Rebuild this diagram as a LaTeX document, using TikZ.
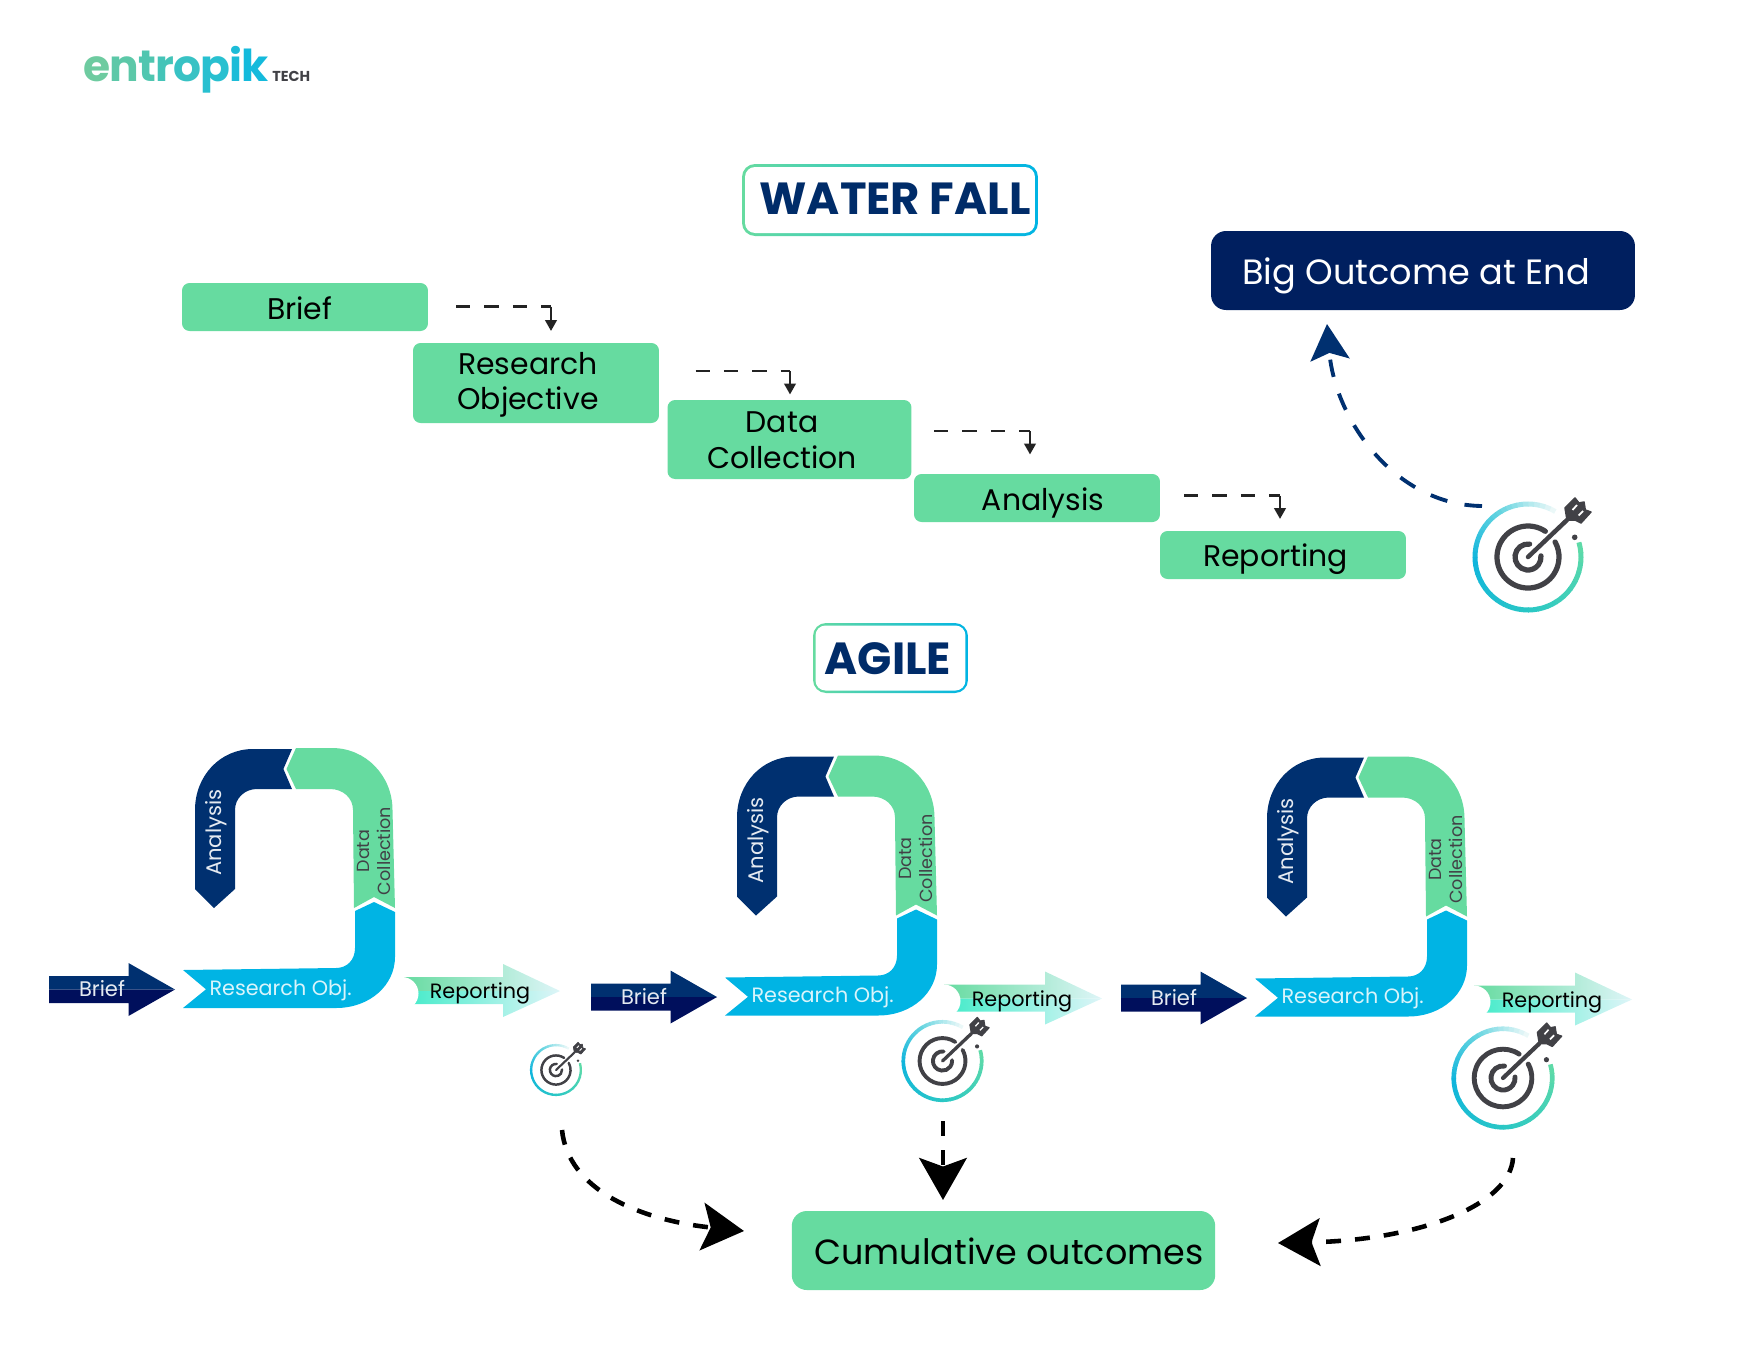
\documentclass[tikz,border=0pt]{standalone}
\usepackage{fontspec}
\setmainfont{Poppins}
\definecolor{verdeMenta}{RGB}{102, 219, 160}
\definecolor{verdeAgua}{RGB}{64, 235, 200}
\definecolor{celestePalido}{RGB}{140, 222, 232}
\definecolor{celesteFin}{RGB}{222, 245, 248}
\definecolor{azulMarino}{RGB}{0, 48, 112}
\definecolor{azulNoche}{RGB}{0, 15, 92}
\definecolor{azulCaja}{RGB}{0, 31, 95}
\definecolor{azulCielo}{RGB}{0, 180, 228}
\definecolor{azulTitulo}{RGB}{0, 44, 105}
\definecolor{grisDiana}{RGB}{65, 65, 70}
\definecolor{grisFlecha}{RGB}{35, 35, 35}
\definecolor{anilloA}{RGB}{235, 248, 248}
\definecolor{anilloB}{RGB}{100, 212, 224}
\definecolor{anilloC}{RGB}{16, 181, 220}
\definecolor{anilloD}{RGB}{44, 200, 196}
\definecolor{anilloE}{RGB}{100, 220, 165}
\usetikzlibrary{arrows.meta}
\tikzstyle{greenbox}=[rectangle, fill=verdeMenta, rounded corners=0.15cm,
                    inner sep=0pt, outer sep=0pt]
\tikzstyle{flowtext}=[font=\fontsize{17}{20.2}\selectfont, align=center, text=black, inner sep=0pt]
\tikzstyle{titleedge}=[rectangle, left color=verdeMenta, right color=azulCielo,
                    rounded corners=0.26cm, inner sep=0pt, outer sep=0pt]
\tikzstyle{titleinner}=[rectangle, fill=white, rounded corners=0.2cm,
                    inner sep=0pt, outer sep=0pt]
\tikzstyle{titletext}=[font=\fontsize{25.6}{30}\selectfont\bfseries, text=azulTitulo, inner sep=0pt]
\tikzstyle{flowdash}=[grisFlecha, line width=1.6pt, dash pattern=on 8.1pt off 8.1pt]
\tikzstyle{flowdrop}=[grisFlecha, line width=1.5pt, -{Triangle[length=0.22cm,width=0.23cm]}]
\tikzstyle{goaledge}=[azulMarino, line width=2.2pt, dash pattern=on 10pt off 10pt,
                    -{Stealth[length=0.72cm,width=0.78cm,inset=0.14cm]}]
\tikzstyle{sumedge}=[black, line width=2.6pt, dash pattern=on 8.5pt off 8pt,
                    -{Stealth[length=0.84cm,width=0.95cm,inset=0.17cm]}]
\tikzstyle{looptext}=[font=\fontsize{12}{14}\selectfont, inner sep=0pt]
\begin{document}
\begin{tikzpicture}[x=0.02cm,y=-0.02cm]
    \useasboundingbox (0,0) rectangle (1742,1360);

    \draw (83,81) node (logo) [anchor=base west, inner sep=0pt,
        font=\fontsize{25}{30}\selectfont\bfseries]
        {\textcolor[RGB]{110,203,160}{e}\kern-0.5pt\textcolor[RGB]{92,200,168}{n}\kern-0.5pt\textcolor[RGB]{80,198,176}{t}\kern-0.5pt\textcolor[RGB]{68,196,184}{r}\kern-0.5pt\textcolor[RGB]{56,194,196}{o}\kern-0.5pt\textcolor[RGB]{40,192,208}{p}\kern-0.5pt\textcolor[RGB]{28,188,216}{i}\kern-0.5pt\textcolor[RGB]{20,186,220}{k}};
    \draw (272,81) node (logotech) [anchor=base west, inner sep=0pt, text=grisDiana,
        font=\fontsize{8.2}{10}\selectfont\bfseries] {TECH};

    \draw (890,200) node (wfedge) [titleedge, minimum width=5.92cm, minimum height=1.44cm] {};
    \draw (890,200) node (wfbox) [titleinner, minimum width=5.8cm, minimum height=1.32cm] {};
    \draw (895,199) node (wftext) [titletext] {WATER FALL};
    \draw (890.5,658) node (agedge) [titleedge, minimum width=3.1cm, minimum height=1.4cm] {};
    \draw (890.5,658) node (agbox) [titleinner, minimum width=3.0cm, minimum height=1.3cm] {};
    \draw (888,659) node (agtext) [titletext] {AGILE};

    \draw (305,307) node (brief) [greenbox, minimum width=4.92cm, minimum height=0.96cm] {};
    \draw (536,383) node (research) [greenbox, minimum width=4.92cm, minimum height=1.6cm] {};
    \draw (789.5,439.5) node (datacoll) [greenbox, minimum width=4.88cm, minimum height=1.58cm] {};
    \draw (1037,498) node (analysis) [greenbox, minimum width=4.92cm, minimum height=0.96cm] {};
    \draw (1283,555) node (reporting) [greenbox, minimum width=4.92cm, minimum height=0.96cm] {};
    \draw (299.6,308) node (brieflabel) [flowtext] {Brief};
    \draw (528,385) node (researchlabel) [flowtext] {Research\\Objective};
    \draw (782,440) node (datalabel) [flowtext] {Data\\Collection};
    \draw (1043,502.5) node (analysislabel) [flowtext] {Analysis};
    \draw (1275.5,559.5) node (reportinglabel) [flowtext] {Reporting};

    \draw (1423,270.5) node (bigoutcome) [greenbox, fill=azulCaja, rounded corners=0.3cm,
        minimum width=8.48cm, minimum height=1.58cm] {};
    \draw (1416,275.5) node (bigoutcomelabel) [flowtext, text=white, font=\fontsize{20}{24}\selectfont] {Big Outcome at End};
    \draw (1003.5,1250.5) node (cumulative) [greenbox, rounded corners=0.3cm,
        minimum width=8.47cm, minimum height=1.58cm] {};
    \draw (1009,1251) node (cumulativelabel) [flowtext, font=\fontsize{19.9}{24}\selectfont] {Cumulative outcomes};

    \foreach \a/\b/\sx/\cx/\cy/\gap in {brief/research/456/551/306.5/0.24,research/datacoll/695.5/790/371/0.11,
        datacoll/analysis/934/1030/431/0.39,analysis/reporting/1184/1280/495.5/0.24} {
        \coordinate (\a out) at (\sx,\cy);
        \coordinate (\a turn) at (\cx,\cy);
        \draw [flowdash] (\a out) -- (\a turn);
        \draw [flowdrop, shorten >=\gap cm] (\a turn) -- (\a turn |- \b.north);
    }

    \foreach \k/\dx/\dy in {a/0/0,b/542/7.5,c/1072/8.5} {
        \begin{scope}[shift={(\dx,\dy)}]
            \fill [azulMarino] (214,908) -- (195,889) -- (195,810)
                .. controls (195,776) and (220,749) .. (253,749) -- (292,749)
                -- (283.4,769) -- (292,789) -- (257,789)
                .. controls (245,789) and (235,798) .. (235,810) -- (235,889) -- cycle;
            \fill [verdeMenta] (296,748) -- (286.5,769) -- (296,789) -- (330,789)
                .. controls (343,789) and (353,798) .. (353,810) -- (354,908)
                -- (374,897) -- (395,908) -- (392.5,810)
                .. controls (392.5,776) and (366,748) .. (332,748) -- cycle;
            \fill [azulCielo] (183,970) -- (206,989.3) -- (183,1008) -- (336,1008)
                .. controls (370,1008) and (395,985) .. (395,957) -- (395,912)
                -- (374,902) -- (355,911) -- (355,948)
                .. controls (355,960) and (347,968) .. (336,968) -- cycle;
            \fill [azulMarino] (49,976) -- (128.5,976) -- (128.5,963) -- (175,989.5) -- (49,989.5) -- cycle;
            \fill [azulNoche] (49,1003) -- (128.5,1003) -- (128.5,1016) -- (175,989.5) -- (49,989.5) -- cycle;
            \path [left color=verdeMenta, middle color=celestePalido, right color=celesteFin]
                (402,977) -- (503,977) -- (503,964) -- (560,991) -- (402,991) -- cycle;
            \path [left color=verdeAgua, middle color=celestePalido, right color=celesteFin]
                (402,1004) -- (503,1004) -- (503,1017) -- (560,991) -- (402,991) -- cycle;
            \fill [white] (402,993.5) circle (16.5);
            \draw (102,989) node (brief\k) [looptext, text=white!90!azulMarino] {Brief};
            \draw (280.6,990) node (research\k) [looptext, text=white!85!azulCielo,
                font=\fontsize{11.8}{14}\selectfont] {Research Obj.};
            \draw (480,993.5) node (reporting\k) [looptext, text=black, font=\fontsize{11.8}{14}\selectfont] {Reporting};
            \draw (216,832.7) node (analysis\k) [looptext, rotate=90, text=white!90!azulMarino] {Analysis};
            \draw (374,851) node (data\k) [looptext, rotate=90, text=grisDiana, align=center,
                font=\fontsize{10}{11.5}\selectfont] {Data\\Collection};
        \end{scope}
    }

    \foreach \cx/\cy/\s in {1528/557/1,556/1070/0.47,942.5/1061/0.74,1503/1078/0.93} {
        \begin{scope}[shift={(\cx,\cy)},scale=\s,yscale=-1]
            \foreach \aIni/\aFin/\cIni/\cFin in {59/120/anilloA/anilloB,120/180/anilloB/anilloC,
                180/270/anilloC/anilloD,270/375/anilloD/anilloE} {
                \foreach \pc in {0,10,...,90} {
                    \pgfmathsetmacro\angA{\aIni+(\aFin-\aIni)*\pc/100}
                    \pgfmathsetmacro\angB{\aIni+(\aFin-\aIni)*(\pc+11)/100}
                    \pgfmathsetmacro\mixp{100-\pc}
                    \draw [line width=\s*0.1cm, color=\cIni!\mixp!\cFin] (\angA:53)
                        arc [start angle=\angA, end angle=\angB, radius=53];
                }
            }
            \draw [grisDiana, line width=\s*0.105cm, line cap=round] (56:31)
                arc [start angle=56, end angle=389, radius=31];
            \draw [grisDiana, line width=\s*0.105cm, line cap=round] (83:13)
                arc [start angle=83, end angle=365, radius=13];
            \draw [grisDiana, line width=\s*0.09cm, line cap=round] (0,0) -- (39,37);
            \filldraw [grisDiana, line width=\s*0.03cm, line join=round] (37,49) -- (47,59) -- (51,54)
                -- (56,55) -- (57.3,47) -- (63,45) -- (53,34) -- (47,37) -- (39,37) -- cycle;
            \draw [white, line width=\s*0.035cm] (44.5,47) -- (49,52);
            \draw [white, line width=\s*0.035cm] (50.5,41.5) -- (55,46);
            \fill [grisDiana] (46.7,19.7) circle (2.8);
        \end{scope}
    }

    \coordinate (goalout) at (1482,506);
    \coordinate (goalin) at (1327,324);
    \draw [goaledge] (goalout) .. controls (1395,505) and (1335,420) .. (goalin);
    \coordinate (leftout) at (562,1130);
    \coordinate (leftin) at (744,1231);
    \draw [sumedge] (leftout) .. controls (568,1190) and (640,1220) .. (leftin);
    \coordinate (midout) at (943,1121);
    \coordinate (midin) at (943,1200);
    \draw [sumedge] (midout) -- (midin);
    \coordinate (rightout) at (1513,1158);
    \coordinate (rightin) at (1278,1243);
    \draw [sumedge] (rightout) .. controls (1510,1205) and (1420,1240) .. (rightin);
\end{tikzpicture}
\end{document}
